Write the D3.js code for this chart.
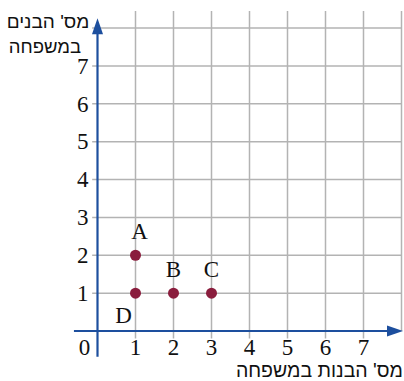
<!DOCTYPE html>
<html>
<head>
<meta charset="utf-8">
<script src="https://cdn.jsdelivr.net/npm/d3@7"></script>
<style>
 body { margin: 0; background: #fff; }
 svg { display: block; }
 .serif { font-family: "Liberation Serif", "Times New Roman", Tinos, "DejaVu Serif", serif; }
 .sans { font-family: "Liberation Sans", Arial, Arimo, sans-serif; }
</style>
</head>
<body>
<div id="chart"></div>
<script>
var pointLabels = ["A", "B", "C", "D"];
var girls = [1, 2, 3, 1];
var boys = [2, 1, 1, 1];
var tickValues = [1, 2, 3, 4, 5, 6, 7];
var gridValues = [1, 2, 3, 4, 5, 6, 7, 8];
var xTitle = "מס' הבנות במשפחה";
var yTitle = ["מס' הבנים", "במשפחה"];

var width = 404,
 height = 381;

var svg = d3.select("#chart")
 .append("svg")
 .attr("width", width)
 .attr("height", height);

var x = d3.scaleLinear().domain([0, 8]).range([97.5, 401.5]);
var y = d3.scaleLinear().domain([0, 8]).range([331, 28]);

var gridColor = "#b3b3b3",
 axisColor = "#1d4f9e",
 dotColor = "#8a1d3d";

// grid
svg.append("g").selectAll("line")
 .data(gridValues)
 .enter().append("line")
 .attr("x1", function(d) { return x(d); })
 .attr("x2", function(d) { return x(d); })
 .attr("y1", y(8.45))
 .attr("y2", function(d) { return d < 8 ? y(-0.2) : y(0); })
 .attr("stroke", gridColor)
 .attr("stroke-width", 1.5);

svg.append("g").selectAll("line")
 .data(gridValues)
 .enter().append("line")
 .attr("x1", x(-0.14))
 .attr("x2", x(8))
 .attr("y1", function(d) { return y(d); })
 .attr("y2", function(d) { return y(d); })
 .attr("stroke", gridColor)
 .attr("stroke-width", 1.5);

// axes
svg.append("line")
 .attr("x1", x(-0.62)).attr("x2", x(7.7))
 .attr("y1", y(0)).attr("y2", y(0))
 .attr("stroke", axisColor).attr("stroke-width", 2.2);

svg.append("line")
 .attr("x1", x(0)).attr("x2", x(0))
 .attr("y1", y(-0.68)).attr("y2", y(8))
 .attr("stroke", axisColor).attr("stroke-width", 2.2);

// arrow heads
var tipX = x(8.04), tipY = y(8.26);
svg.append("path")
 .attr("d", "M" + tipX + "," + y(0) + "L" + (tipX - 16) + "," + (y(0) - 5.5) + "L" + (tipX - 16) + "," + (y(0) + 5.5) + "Z")
 .attr("fill", axisColor);
svg.append("path")
 .attr("d", "M" + x(0) + "," + tipY + "L" + (x(0) - 5.5) + "," + (tipY + 16) + "L" + (x(0) + 5.5) + "," + (tipY + 16) + "Z")
 .attr("fill", axisColor);

// tick labels
svg.append("g").selectAll("text")
 .data(tickValues)
 .enter().append("text")
 .attr("class", "serif")
 .attr("x", function(d) { return x(d); })
 .attr("y", 355)
 .attr("text-anchor", "middle")
 .attr("font-size", 23)
 .attr("fill", "#111")
 .text(function(d) { return d; });

svg.append("text")
 .attr("class", "serif")
 .attr("x", x(0) - 13)
 .attr("y", 355)
 .attr("text-anchor", "middle")
 .attr("font-size", 23)
 .attr("fill", "#111")
 .text("0");

svg.append("g").selectAll("text")
 .data(tickValues)
 .enter().append("text")
 .attr("class", "serif")
 .attr("x", x(0) - 9)
 .attr("y", function(d) { return y(d); })
 .attr("dy", "0.34em")
 .attr("text-anchor", "end")
 .attr("font-size", 23)
 .attr("fill", "#111")
 .text(function(d) { return d; });

// points
var dots = svg.append("g").selectAll("g")
 .data(pointLabels.map(function(l, i) { return { label: l, girls: girls[i], boys: boys[i] }; }))
 .enter().append("g");

dots.append("circle")
 .attr("cx", function(d) { return x(d.girls); })
 .attr("cy", function(d) { return y(d.boys); })
 .attr("r", 5.5)
 .attr("fill", dotColor);

dots.append("text")
 .attr("class", "serif")
 .attr("x", function(d) { return d.label === "D" ? x(d.girls) - 12 : x(d.girls) + (d.label === "A" ? 4 : 0); })
 .attr("y", function(d) { return d.label === "D" ? y(d.boys) + 30 : y(d.boys) - 16; })
 .attr("text-anchor", "middle")
 .attr("font-size", 23)
 .attr("fill", "#111")
 .text(function(d) { return d.label; });

// titles
svg.append("text")
 .attr("class", "sans")
 .attr("x", 403)
 .attr("y", 377)
 .attr("text-anchor", "end")
 .attr("font-size", 19.5)
 .attr("fill", "#111")
 .text(xTitle);

svg.append("g").selectAll("text")
 .data(yTitle)
 .enter().append("text")
 .attr("class", "sans")
 .attr("x", function(d, i) { return i ? 45 : 48; })
 .attr("y", function(d, i) { return i ? 52.5 : 27.5; })
 .attr("text-anchor", "middle")
 .attr("font-size", function(d, i) { return i ? 18.5 : 19; })
 .attr("fill", "#111")
 .text(function(d) { return d; });
</script>
</body>
</html>
